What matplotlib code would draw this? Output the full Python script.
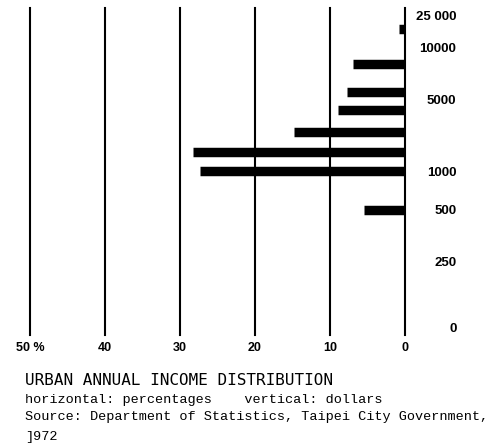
import matplotlib
matplotlib.use("Agg")
import matplotlib.pyplot as plt
import numpy as np

# income brackets (dollars) and share of households (%)
income = [18700, 8400, 5750, 4450, 3200, 2050, 1000, 500]
share = [0.85, 6.9, 7.8, 9.0, 14.8, 28.3, 27.3, 5.5]

pct_ticks = [50, 40, 30, 20, 10, 0]
pct_labels = ["50 %", "40", "30", "20", "10", "0"]
dollar_ticks = [0, 250, 500, 1000, 5000, 10000, 25000]
dollar_labels = ["0", "250", "500", "1000", "5000", "10000", "25 000"]

# the printed dollar axis is hand spaced, not linear: map tick values to heights
axis_pos = [0, 66, 117, 156, 227, 280, 311]


def fwd(v):
    return np.interp(v, dollar_ticks, axis_pos)


def inv(p):
    return np.interp(p, axis_pos, dollar_ticks)


narrow = ["Liberation Sans", "DejaVu Sans"]

fig = plt.figure(figsize=(5.01, 4.46), dpi=100)
ax = fig.add_axes([30 / 501, 1 - 327 / 446, 375 / 501, 311 / 446])

ax.set_yscale("function", functions=(fwd, inv))
ax.set_ylim(0, 25000)
ax.set_xlim(50, 0)

# vertical grid lines, a bit longer than the axis
for x in pct_ticks:
    ax.axvline(x, ymin=-0.026, ymax=1.026, color="black", linewidth=1.5, clip_on=False)

# bars drawn as thick horizontal strokes so they keep an even thickness
ax.hlines(income, 0, share, colors="black", linewidth=6.8, capstyle="butt")

for spine in ax.spines.values():
    spine.set_visible(False)

ax.set_xticks(pct_ticks)
ax.set_xticklabels(pct_labels, family=narrow, fontweight="bold", fontsize=9)
ax.tick_params(axis="x", length=0, pad=11)

ax.yaxis.tick_right()
ax.set_yticks(dollar_ticks)
ax.set_yticklabels(dollar_labels, family=narrow, fontweight="bold", fontsize=9.5)
ax.yaxis.set_minor_locator(matplotlib.ticker.NullLocator())
ax.tick_params(axis="y", length=0, pad=37)
for lab in ax.get_yticklabels():
    lab.set_horizontalalignment("right")

fig.text(25 / 501, 1 - 385 / 446, "URBAN ANNUAL INCOME DISTRIBUTION",
         family="DejaVu Sans Mono", fontsize=11.5, va="baseline")
fig.text(25 / 501, 1 - 403 / 446, "horizontal: percentages    vertical: dollars",
         family="Liberation Mono", fontsize=9.7, va="baseline")
fig.text(25 / 501, 1 - 420 / 446, "Source: Department of Statistics, Taipei City Government,",
         family="Liberation Mono", fontsize=9.7, va="baseline")
fig.text(25 / 501, 1 - 440 / 446, "]972",
         family="Liberation Mono", fontsize=9.7, va="baseline")

fig.savefig("out.png", dpi=100)
